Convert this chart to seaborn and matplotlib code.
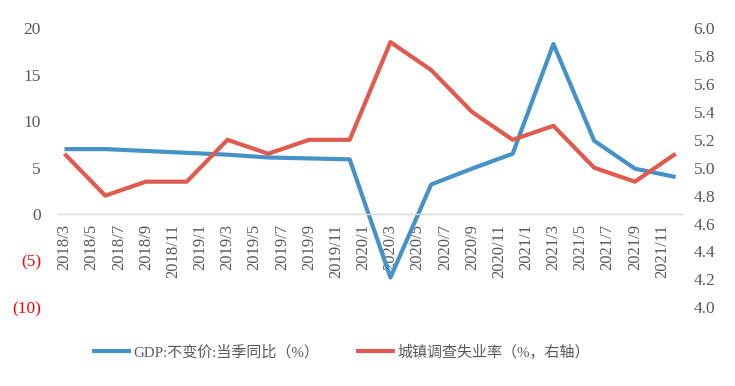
import matplotlib
matplotlib.use("Agg")
import matplotlib.pyplot as plt
import seaborn as sns
import pandas as pd

quarters = ["2018/3", "2018/6", "2018/9", "2018/12",
            "2019/3", "2019/6", "2019/9", "2019/12",
            "2020/3", "2020/6", "2020/9", "2020/12",
            "2021/3", "2021/6", "2021/9", "2021/12"]
gdp = [7.0, 7.0, 6.8, 6.6, 6.4, 6.1, 6.0, 5.9,
       -6.8, 3.2, 4.9, 6.5, 18.3, 7.9, 4.9, 4.0]
unemp = [5.1, 4.8, 4.9, 4.9, 5.2, 5.1, 5.2, 5.2,
         5.9, 5.7, 5.4, 5.2, 5.3, 5.0, 4.9, 5.1]
tick_labels = ["2018/3", "2018/5", "2018/7", "2018/9", "2018/11",
               "2019/1", "2019/3", "2019/5", "2019/7", "2019/9", "2019/11",
               "2020/1", "2020/3", "2020/5", "2020/7", "2020/9", "2020/11",
               "2021/1", "2021/3", "2021/5", "2021/7", "2021/9", "2021/11"]
left_ticks = [-10, -5, 0, 5, 10, 15, 20]
left_labels = ["(10)", "(5)", "0", "5", "10", "15", "20"]
right_ticks = [4.0, 4.2, 4.4, 4.6, 4.8, 5.0, 5.2, 5.4, 5.6, 5.8, 6.0]
gdp_name = "GDP:不变价:当季同比（%）"
unemp_name = "城镇调查失业率（%，右轴）"


def month_index(s):
    y, m = s.split("/")
    return (int(y) - 2018) * 12 + int(m) - 3


df = pd.DataFrame({"pos": [month_index(q) for q in quarters],
                   "gdp": gdp, "unemp": unemp})
tick_pos = [month_index(t) for t in tick_labels]

sns.set_style("white")
plt.rcParams["font.family"] = ["Liberation Serif", "Noto Sans CJK SC", "DejaVu Sans"]

BLUE = "#4592C8"
RED = "#E15A4F"
GREY = "#595959"

fig = plt.figure(figsize=(7.35, 3.86), dpi=100)
ax = fig.add_axes([0.0785, 0.204, 0.850, 0.723])
ax2 = ax.twinx()

sns.lineplot(data=df, x="pos", y="gdp", ax=ax, color=BLUE, lw=3.0,
             label=gdp_name, legend=False, solid_capstyle="butt")
sns.lineplot(data=df, x="pos", y="unemp", ax=ax2, color=RED, lw=3.0,
             label=unemp_name, legend=False, solid_capstyle="butt")

ax.set_xlim(-0.5, 45.5)
ax.set_ylim(-10, 20)
ax2.set_ylim(4.0, 6.0)

ax.set_yticks(left_ticks)
ax.set_yticklabels(left_labels)
ax.tick_params(axis="y", length=0, pad=12, labelsize=12.5)
for lbl, v in zip(ax.get_yticklabels(), left_ticks):
    lbl.set_color("#FF0000" if v < 0 else GREY)

ax2.set_yticks(right_ticks)
ax2.set_yticklabels([f"{v:.1f}" for v in right_ticks])
ax2.tick_params(axis="y", length=0, pad=8, labelsize=12.5, labelcolor=GREY)

# x axis: labels at category centres, tick marks at group boundaries
ax.set_xticks([p - 0.5 for p in tick_pos] + [45.5])
ax.set_xticklabels([])
ax.set_xticks(tick_pos, minor=True)
ax.set_xticklabels(tick_labels, minor=True)
ax.tick_params(axis="x", which="major", length=3.6, width=1, color="#D9D9D9",
               direction="out")
ax.tick_params(axis="x", which="minor", length=0, pad=7, labelsize=12,
               labelcolor=GREY, labelrotation=90)

ax.set_xlabel("")
ax.set_ylabel("")
ax2.set_ylabel("")

for sp in ["top", "left", "right"]:
    ax.spines[sp].set_visible(False)
for sp in ax2.spines.values():
    sp.set_visible(False)
ax.spines["bottom"].set_position(("data", 0))
ax.spines["bottom"].set_color("#D9D9D9")
ax.spines["bottom"].set_linewidth(1)
ax.grid(False)
ax2.grid(False)

h1, l1 = ax.get_legend_handles_labels()
h2, l2 = ax2.get_legend_handles_labels()
fig.legend(h1 + h2, l1 + l2, loc="center", bbox_to_anchor=(0.464, 0.088),
           ncol=2, frameon=False, fontsize=10.8, handlelength=2.6,
           handletextpad=0.2, columnspacing=2.4, labelcolor=GREY)

fig.savefig("out.png", dpi=100)
